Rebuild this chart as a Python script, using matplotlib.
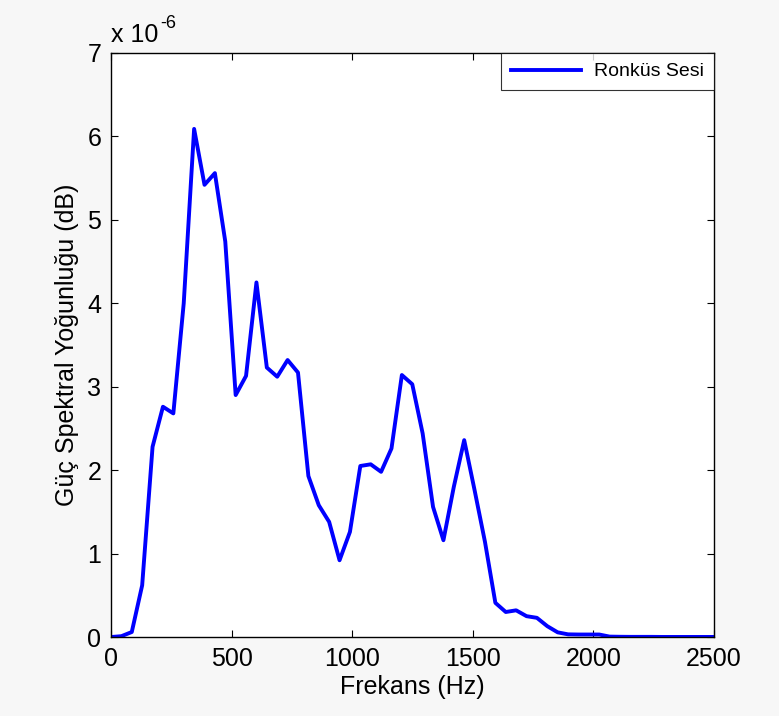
import numpy as np
import matplotlib
matplotlib.use('Agg')
import matplotlib.pyplot as plt

plt.rcParams['font.family'] = ['Liberation Sans', 'DejaVu Sans']

# power spectral density, units of 1e-6, one bin every fs/N Hz
bin_hz = 44100.0 / 1024
psd = [0.0, 0.01, 0.06, 0.62, 2.28, 2.76, 2.68, 4.00, 6.09, 5.42,
       5.56, 4.74, 2.90, 3.13, 4.25, 3.23, 3.12, 3.32, 3.17, 1.93,
       1.58, 1.38, 0.92, 1.26, 2.05, 2.07, 1.98, 2.26, 3.14, 3.03,
       2.44, 1.56, 1.16, 1.80, 2.36, 1.76, 1.14, 0.41, 0.30, 0.32,
       0.25, 0.23, 0.13, 0.056, 0.032, 0.03, 0.03, 0.03, 0.005, 0.003,
       0.002, 0.002, 0.002, 0.001, 0.001, 0.001, 0.001, 0.001, 0.001, 0.001]
freq = np.arange(len(psd)) * bin_hz

xticks = [0, 500, 1000, 1500, 2000, 2500]
yticks = [0, 1, 2, 3, 4, 5, 6, 7]

fig = plt.figure(figsize=(7.79, 7.16), dpi=100, facecolor='#f7f7f7')
ax = fig.add_axes([0.1425, 0.1103, 0.7741, 0.8157])
ax.set_facecolor('white')

ax.plot(freq, psd, color='#0000ff', lw=2.8, label='Ronküs Sesi')

ax.set_xlim(0, 2500)
ax.set_ylim(0, 7)
ax.set_xticks(xticks)
ax.set_yticks(yticks)
ax.tick_params(direction='in', length=5, width=0.8, top=True, right=True,
               labelsize=18)
ax.tick_params(axis='x', pad=7)
ax.tick_params(axis='y', pad=7)
for s in ax.spines.values():
    s.set_linewidth(1.0)

ax.set_xlabel('Frekans (Hz)', fontsize=18, labelpad=3)
ax.set_ylabel('Güç Spektral Yoğunluğu (dB)', fontsize=18, labelpad=6)

# exponent note above the y axis
ax.text(0.0, 1.01, 'x 10', transform=ax.transAxes, fontsize=18,
        ha='left', va='bottom')
ax.text(0.081, 1.036, '-6', transform=ax.transAxes, fontsize=13,
        ha='left', va='bottom')

leg = ax.legend(loc='upper right', fontsize=14, frameon=True, fancybox=False,
                borderaxespad=0, handlelength=3.6, borderpad=0.5,
                handletextpad=0.7)
leg.get_frame().set_edgecolor('black')
leg.get_frame().set_linewidth(0.8)

fig.savefig('out.png', dpi=100, facecolor=fig.get_facecolor())
